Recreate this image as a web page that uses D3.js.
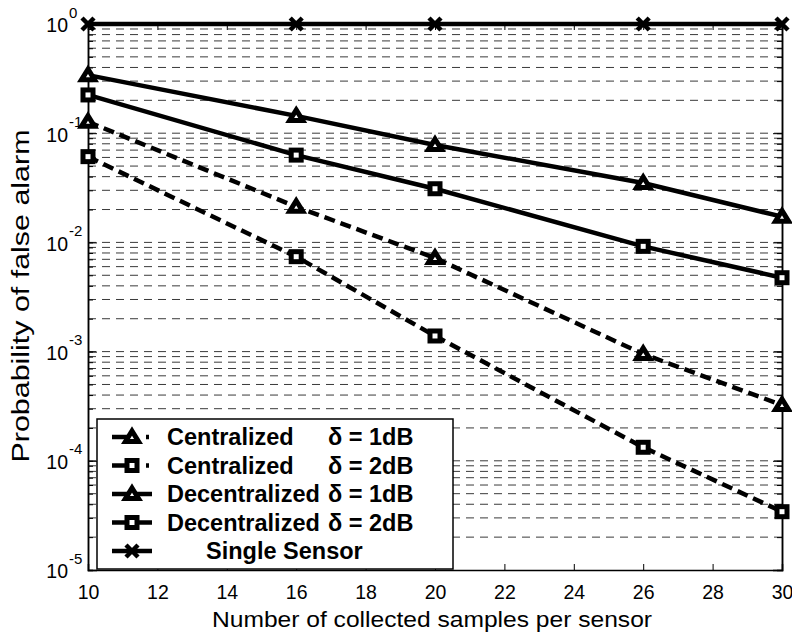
<!DOCTYPE html>
<html>
<head>
<meta charset="UTF-8">
<script src="https://cdn.jsdelivr.net/npm/d3@7"></script>
<style>
	body { margin: 0; background: #fff; }
	svg { display: block; font-family: "Liberation Sans", Arial, sans-serif; }
	.grid line { stroke: #3a3a3a; stroke-width: 1; stroke-dasharray: 8,6; }
	.axis path, .axis line { stroke: #000; }
	.axis text { font-family: "Liberation Sans", Arial, sans-serif; font-size: 19.5px; fill: #000; }
</style>
</head>
<body>
<script>
// values
const samples = [10, 16, 20, 26, 30];
const central1 = [0.127, 0.0212, 0.0072, 0.00095, 0.000324];
const central2 = [0.061, 0.0074, 0.00139, 0.000133, 0.0000342];
const decentral1 = [0.34, 0.144, 0.078, 0.035, 0.0172];
const decentral2 = [0.224, 0.063, 0.031, 0.0092, 0.00475];
const single = [1, 1, 1, 1, 1];

const xTicks = [10, 12, 14, 16, 18, 20, 22, 24, 26, 28, 30];
const yDecades = [-5, -4, -3, -2, -1, 0];

const legendNames = ['Centralized', 'Centralized', 'Decentralized', 'Decentralized', 'Single Sensor'];
const legendDeltas = ['\u03b4 = 1dB', '\u03b4 = 2dB', '\u03b4 = 1dB', '\u03b4 = 2dB', ''];

const width = 792, height = 634;
const margin = {top: 24, right: 10, bottom: 64, left: 88};

const x = d3.scaleLinear().domain([10, 30]).range([margin.left, width - margin.right]);
const y = d3.scaleLog().domain([1e-5, 1]).range([height - margin.bottom, margin.top]);

const svg = d3.select('body').append('svg')
	.attr('width', width)
	.attr('height', height);

// minor values for grid and ticks
const minor = [];
yDecades.slice(0, -1).forEach(k => {
	for (let m = 1; m <= 9; m++) minor.push(m * Math.pow(10, k));
});
const gridVals = minor.filter(v => v > 1e-5);

svg.append('g').attr('class', 'grid')
	.selectAll('line')
	.data(gridVals)
	.enter().append('line')
		.attr('x1', x(10)).attr('x2', x(30))
		.attr('y1', d => y(d)).attr('y2', d => y(d));

// axes
svg.append('g').attr('class', 'axis')
	.attr('transform', `translate(0,${y(1e-5)})`)
	.call(d3.axisBottom(x).tickValues(xTicks).tickSize(-6).tickPadding(15).tickFormat(d3.format('d')));
svg.append('g').attr('class', 'axis')
	.attr('transform', `translate(0,${y(1)})`)
	.call(d3.axisTop(x).tickValues(xTicks).tickSize(-6).tickFormat(''));

svg.append('g').attr('class', 'axis')
	.attr('transform', `translate(${x(10)},0)`)
	.call(d3.axisLeft(y).tickValues(minor).tickSize(-5).tickFormat(''));
svg.append('g').attr('class', 'axis')
	.attr('transform', `translate(${x(30)},0)`)
	.call(d3.axisRight(y).tickValues(minor).tickSize(-5).tickFormat(''));

const decades = yDecades.map(k => Math.pow(10, k));
const yLeft = svg.append('g').attr('class', 'axis')
	.attr('transform', `translate(${x(10)},0)`)
	.call(d3.axisLeft(y).tickValues(decades).tickSize(-9).tickFormat(''));
svg.append('g').attr('class', 'axis')
	.attr('transform', `translate(${x(30)},0)`)
	.call(d3.axisRight(y).tickValues(decades).tickSize(-9).tickFormat(''));

svg.selectAll('.axis path.domain').attr('stroke-width', 1.5);

// decade labels with superscript exponent
yLeft.selectAll('.tick').each(function(d) {
	const t = d3.select(this);
	t.append('text')
		.attr('x', -20).attr('y', 1).attr('dy', '0.35em')
		.attr('text-anchor', 'end')
		.text('10');
	t.append('text')
		.attr('x', -19).attr('y', -7)
		.attr('text-anchor', 'start')
		.style('font-size', '15px')
		.text(Math.round(Math.log10(d)));
});

// series
const series = [
	{vals: central1, dash: '11,6', marker: 'tri'},
	{vals: central2, dash: '11,6', marker: 'sq'},
	{vals: decentral1, dash: null, marker: 'tri'},
	{vals: decentral2, dash: null, marker: 'sq'},
	{vals: single, dash: null, marker: 'x'}
];

const line = d3.line().x((d, i) => x(samples[i])).y(d => y(d));

function drawMarker(g, type) {
	if (type === 'tri') {
		g.append('path').attr('d', 'M0,-6L6.5,4.5L-6.5,4.5Z')
			.attr('fill', '#fff').attr('stroke', '#000').attr('stroke-width', 5).attr('stroke-linejoin', 'miter');
	} else if (type === 'sq') {
		g.append('rect').attr('x', -5).attr('y', -5).attr('width', 10).attr('height', 10)
			.attr('fill', '#fff').attr('stroke', '#000').attr('stroke-width', 5);
	} else {
		g.append('path').attr('d', 'M-6,-6L6,6M-6,6L6,-6')
			.attr('stroke', '#000').attr('stroke-width', 4.5).attr('fill', 'none');
	}
}

series.forEach(s => {
	svg.append('path')
		.datum(s.vals)
		.attr('d', line)
		.attr('fill', 'none')
		.attr('stroke', '#000')
		.attr('stroke-width', 4.5)
		.attr('stroke-dasharray', s.dash);
	svg.append('g').selectAll('g')
		.data(s.vals)
		.enter().append('g')
			.attr('transform', (d, i) => `translate(${x(samples[i])},${y(d)})`)
			.each(function() { drawMarker(d3.select(this), s.marker); });
});

// legend
const lg = svg.append('g').attr('transform', 'translate(97,419)');
lg.append('rect').attr('width', 356).attr('height', 150)
	.attr('fill', '#fff').attr('stroke', '#000').attr('stroke-width', 1.5);
series.forEach((s, i) => {
	const row = lg.append('g').attr('transform', `translate(0,${18 + i * 28.5})`);
	row.append('line').attr('x1', 15).attr('x2', 55)
		.attr('stroke', '#000').attr('stroke-width', 4.5)
		.attr('stroke-dasharray', s.dash ? '22,26' : null);
	row.append('line').attr('x1', 49).attr('x2', 52)
		.attr('stroke', s.dash ? '#000' : 'none').attr('stroke-width', 4.5);
	drawMarker(row.append('g').attr('transform', 'translate(35,0)'), s.marker);
	const isSingle = i === 4;
	row.append('text')
		.attr('x', isSingle ? 109 : 70).attr('dy', '0.36em')
		.style('font-size', '23.5px').style('font-weight', 'bold')
		.text(legendNames[i]);
	row.append('text')
		.attr('x', 231).attr('dy', '0.36em')
		.style('font-size', '23.5px').style('font-weight', 'bold')
		.text(legendDeltas[i]);
});

// axis titles
svg.append('text')
	.attr('x', 432).attr('y', 627)
	.attr('text-anchor', 'middle')
	.attr('textLength', 440).attr('lengthAdjust', 'spacingAndGlyphs')
	.style('font-size', '22.5px')
	.text('Number of collected samples per sensor');

svg.append('text')
	.attr('transform', 'translate(29,296) rotate(-90)')
	.attr('text-anchor', 'middle')
	.attr('textLength', 333).attr('lengthAdjust', 'spacingAndGlyphs')
	.style('font-size', '23px')
	.text('Probability of false alarm');
</script>
</body>
</html>
